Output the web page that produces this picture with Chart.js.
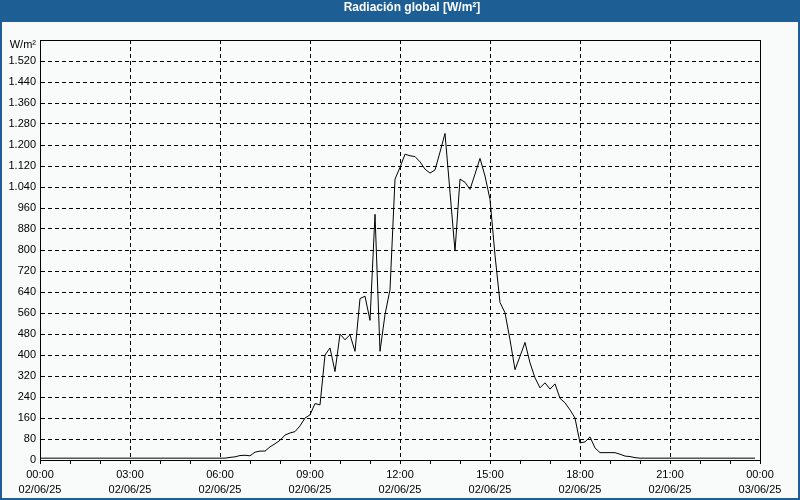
<!DOCTYPE html>
<html>
<head>
<meta charset="utf-8">
<script src="https://cdn.jsdelivr.net/npm/chart.js@4.4.1/dist/chart.umd.min.js"></script>
<style>
  html, body { margin: 0; padding: 0; background: #1d5e95; }
  #wrap { position: relative; width: 800px; height: 500px; }
  #title { position: absolute; left: 0; top: 0; width: 800px; height: 22px; line-height: 22px;
           box-sizing: border-box; padding-left: 24px; text-align: center; color: #fff;
           font: bold 12px "Liberation Sans", Arial, sans-serif; }
  canvas { display: block; }
</style>
</head>
<body>
<div id="wrap">
  <canvas id="c" width="800" height="500"></canvas>
  <div id="title">Radiación global [W/m²]</div>
</div>
<script>
// ---- data ----
const unitLabel = 'W/m²';
const xTickHours = [0, 3, 6, 9, 12, 15, 18, 21, 24];
const xTickTimes = ['00:00', '03:00', '06:00', '09:00', '12:00', '15:00', '18:00', '21:00', '00:00'];
const xTickDates = ['02/06/25', '02/06/25', '02/06/25', '02/06/25', '02/06/25', '02/06/25', '02/06/25', '02/06/25', '03/06/25'];
const yMax = 1600;
const yStep = 80;

// sample times (10 min) for 02/06/25
const times = [];
for (let h = 0; h < 24; h++) {
  for (let m = 0; m < 60; m += 10) {
    times.push(String(h).padStart(2, '0') + ':' + String(m).padStart(2, '0'));
  }
}

// global radiation W/m²
const radiation = [
  7, 7, 7, 7, 7, 7, 7, 7, 7, 7, 7, 7,
  7, 7, 7, 7, 7, 7, 7, 7, 7, 7, 7, 7,
  7, 7, 7, 7, 7, 7, 7, 7, 7, 7, 7, 7,
  7, 7, 10, 12, 17, 18, 16, 30, 34, 34, 50, 62,
  75, 95, 103, 108, 130, 160, 172, 215, 210, 400, 427, 337,
  480, 458, 477, 414, 615, 624, 532, 936, 414, 554, 649, 1070,
  1115, 1165, 1159, 1156, 1136, 1108, 1093, 1105, 1173, 1244, 1020, 796,
  1070, 1058, 1031, 1089, 1149, 1082, 993, 780, 600, 561, 458, 344,
  395, 448, 370, 313, 275, 294, 270, 290, 235, 218, 191, 160,
  65, 69, 88, 46, 28, 28, 28, 28, 22, 15, 13, 9,
  7, 7, 7, 7, 7, 7, 7, 7, 7, 7, 7, 7,
  7, 7, 7, 7, 7, 7, 7, 7, 7, 7, 7, 7
];

function toHours(t) { const p = t.split(':'); return Number(p[0]) + Number(p[1]) / 60; }
function fmtThousands(v) {
  if (v >= 1000) return Math.floor(v / 1000) + '.' + String(v % 1000).padStart(3, '0');
  return String(v);
}

const FONT = '"Liberation Sans", Arial, sans-serif';

const framePlugin = {
  id: 'frame',
  beforeDraw(chart) {
    const c = chart.ctx;
    c.save();
    c.fillStyle = '#1d5e95';
    c.fillRect(0, 0, chart.width, chart.height);
    c.fillStyle = '#f9fbfb';
    c.fillRect(2, 22, chart.width - 4, chart.height - 24);
    c.restore();
  },
  afterDraw(chart) {
    const a = chart.chartArea;
    const c = chart.ctx;
    c.save();
    c.strokeStyle = '#000';
    c.lineWidth = 1;
    c.strokeRect(Math.round(a.left) + 0.5, Math.round(a.top) + 0.5,
                 Math.round(a.right - a.left), Math.round(a.bottom - a.top));
    c.restore();
  }
};

new Chart(document.getElementById('c'), {
  type: 'line',
  data: {
    datasets: [{
      data: radiation.map((v, i) => ({ x: toHours(times[i]), y: v })),
      borderColor: '#000',
      borderWidth: 1,
      pointRadius: 0,
      tension: 0,
      fill: false
    }]
  },
  plugins: [framePlugin],
  options: {
    responsive: false,
    animation: false,
    devicePixelRatio: 1,
    layout: { padding: { left: 2, right: 40, top: 40, bottom: 0 } },
    plugins: { legend: { display: false }, tooltip: { enabled: false }, title: { display: false } },
    scales: {
      x: {
        type: 'linear', min: 0, max: 24,
        afterFit(s) { s.height = 40; },
        ticks: {
          stepSize: 1, autoSkip: false, maxRotation: 0, minRotation: 0,
          color: '#000', padding: 3.5,
          font: { family: FONT, size: 11, lineHeight: 15 / 11 },
          callback(v) {
            const i = xTickHours.indexOf(v);
            return i < 0 ? '' : [xTickTimes[i], xTickDates[i]];
          }
        },
        grid: {
          color: (ctx) => (ctx.tick && xTickHours.includes(ctx.tick.value)) ? '#000' : 'rgba(0,0,0,0)',
          lineWidth: 1, drawTicks: true, tickLength: 4, tickColor: '#000', tickWidth: 1, tickBorderDash: []
        },
        border: { display: true, color: '#000', width: 1, dash: [4, 3] }
      },
      y: {
        min: 0, max: yMax,
        afterFit(s) { s.width = 38; },
        ticks: {
          stepSize: yStep, color: '#000', padding: 4,
          font: (ctx) => (ctx.tick && ctx.tick.value === yMax)
            ? { family: FONT, size: 11, lineHeight: 9 / 11 }
            : { family: FONT, size: 11 },
          callback(v) { return v === yMax ? ['', unitLabel] : fmtThousands(v); }
        },
        grid: { color: '#000', lineWidth: 1, drawTicks: false },
        border: { display: true, color: '#000', width: 1, dash: [4, 3] }
      }
    }
  }
});
</script>
</body>
</html>
